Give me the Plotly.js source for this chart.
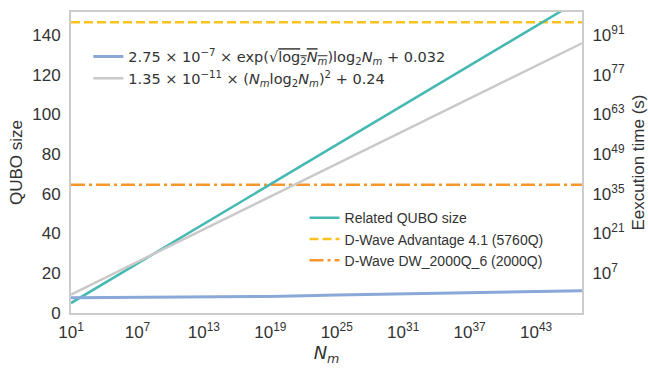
<!DOCTYPE html>
<html>
<head>
<meta charset="utf-8">
<script src="https://cdn.plot.ly/plotly-3.0.1.min.js"></script>
<style>html,body{margin:0;padding:0;background:#fff;}#chart{width:648px;height:369px;}</style>
</head>
<body>
<div id="chart"></div>
<script>
// N_m sample points (x axis)
const Nm = [1e1, 1e7, 1e13, 1e19, 1e25, 1e31, 1e37, 1e43, 1.4e47];
// Related QUBO size (left axis)
const quboSize = [5.0, 24.9, 44.8, 64.8, 84.7, 104.6, 124.5, 144.4, 158.2];
// execution time (s) curves (right axis)
const timeExp = [0.026, 0.03, 0.037, 0.07, 0.2, 0.6, 1.6, 3.8, 6.5];
const timePoly = [0.32, 1.05e11, 3.4e22, 1.1e34, 3.5e45, 1.1e57, 3.6e68, 1.2e80, 1.1e88];
// device limits (QUBO size)
const advantageLimit = 146.4;
const dw2000Limit = 64.6;
// tick labels
const xTickVals = [1e1, 1e7, 1e13, 1e19, 1e25, 1e31, 1e37, 1e43];
const xTickText = ['10<sup>1</sup>','10<sup>7</sup>','10<sup>13</sup>','10<sup>19</sup>','10<sup>25</sup>','10<sup>31</sup>','10<sup>37</sup>','10<sup>43</sup>'];
const yTickVals = [0, 20, 40, 60, 80, 100, 120, 140];
const y2TickVals = [1e7, 1e21, 1e35, 1e49, 1e63, 1e77, 1e91];
const y2TickText = ['10<sup>7</sup>','10<sup>21</sup>','10<sup>35</sup>','10<sup>49</sup>','10<sup>63</sup>','10<sup>77</sup>','10<sup>91</sup>'];

const labelExp = '2.75 × 10<sup>−7</sup> × exp(√<span style="text-decoration:overline">log<sub>2</sub><i>N</i><sub><i>m</i></sub></span>)log<sub>2</sub><i>N</i><sub><i>m</i></sub> + 0.032';
const labelPoly = '1.35 × 10<sup>−11</sup> × (<i>N</i><sub><i>m</i></sub>log<sub>2</sub><i>N</i><sub><i>m</i></sub>)<sup>2</sup> + 0.24';

const traces = [
  {x: Nm, y: timeExp, yaxis: 'y2', mode: 'lines', name: labelExp, legend: 'legend',
   line: {color: '#8aa8d8', width: 3}},
  {x: Nm, y: timePoly, yaxis: 'y2', mode: 'lines', name: labelPoly, legend: 'legend',
   line: {color: '#c9c9c9', width: 2.5}},
  {x: [Nm[0], Nm[Nm.length-1]], y: [dw2000Limit, dw2000Limit], mode: 'lines', name: 'D-Wave DW_2000Q_6 (2000Q)', legend: 'legend2',
   line: {color: '#f7962c', width: 2.5, dash: '14px,4px,3px,4px'}},
  {x: [Nm[0], Nm[Nm.length-1]], y: [advantageLimit, advantageLimit], mode: 'lines', name: 'D-Wave Advantage 4.1 (5760Q)', legend: 'legend2',
   line: {color: '#fcc31e', width: 2.5, dash: '9px,4px'}},
  {x: Nm, y: quboSize, mode: 'lines', name: 'Related QUBO size', legend: 'legend2',
   line: {color: '#45b9b1', width: 2.5}}
];

const tickFont = {family: 'Liberation Sans, Arial, sans-serif', size: 17, color: '#333333'};
const layout = {
  width: 648, height: 369,
  margin: {l: 71, r: 66, t: 12, b: 56, pad: 0},
  paper_bgcolor: '#ffffff', plot_bgcolor: '#ffffff',
  showlegend: true,
  xaxis: {
    type: 'log', range: [1, 47.15], tickmode: 'array', tickvals: xTickVals, ticktext: xTickText,
    showgrid: false, zeroline: false, showline: true, mirror: true, linecolor: '#cccccc', linewidth: 2,
    ticks: 'outside', ticklen: 3, tickcolor: 'rgba(0,0,0,0)', tickfont: tickFont,
    title: {text: '<i>N</i><sub><i>m</i></sub>', font: {family: 'DejaVu Sans, sans-serif', size: 18, color: '#333333'}, standoff: 0}
  },
  yaxis: {
    range: [0, 151.5], tickmode: 'array', tickvals: yTickVals,
    showgrid: false, zeroline: false, showline: true, mirror: true, linecolor: '#cccccc', linewidth: 2,
    ticks: 'outside', ticklen: 5, tickcolor: 'rgba(0,0,0,0)', tickfont: tickFont,
    title: {text: 'QUBO size', font: {family: 'Liberation Sans, Arial, sans-serif', size: 17, color: '#333333'}, standoff: 5}
  },
  yaxis2: {
    type: 'log', range: [-7, 99.05], overlaying: 'y', side: 'right', tickmode: 'array', tickvals: y2TickVals, ticktext: y2TickText,
    showgrid: false, zeroline: false, showline: true, linecolor: '#cccccc', linewidth: 2,
    ticks: 'outside', ticklen: 5, tickcolor: 'rgba(0,0,0,0)', tickfont: tickFont,
    title: {text: 'Eexcution time (s)', font: {family: 'Liberation Sans, Arial, sans-serif', size: 17, color: '#333333'}, standoff: 10}
  },
  legend: {
    x: 0.034, y: 0.905, xanchor: 'left', yanchor: 'top', bgcolor: 'rgba(0,0,0,0)', borderwidth: 0,
    font: {family: 'DejaVu Sans, sans-serif', size: 14.5, color: '#333333'}, traceorder: 'normal'
  },
  legend2: {
    x: 0.457, y: 0.368, xanchor: 'left', yanchor: 'top', bgcolor: 'rgba(0,0,0,0)', borderwidth: 0,
    font: {family: 'Liberation Sans, Arial, sans-serif', size: 14, color: '#333333'}, traceorder: 'reversed'
  }
};

Plotly.newPlot('chart', traces, layout, {displayModeBar: false, staticPlot: true});
</script>
</body>
</html>
